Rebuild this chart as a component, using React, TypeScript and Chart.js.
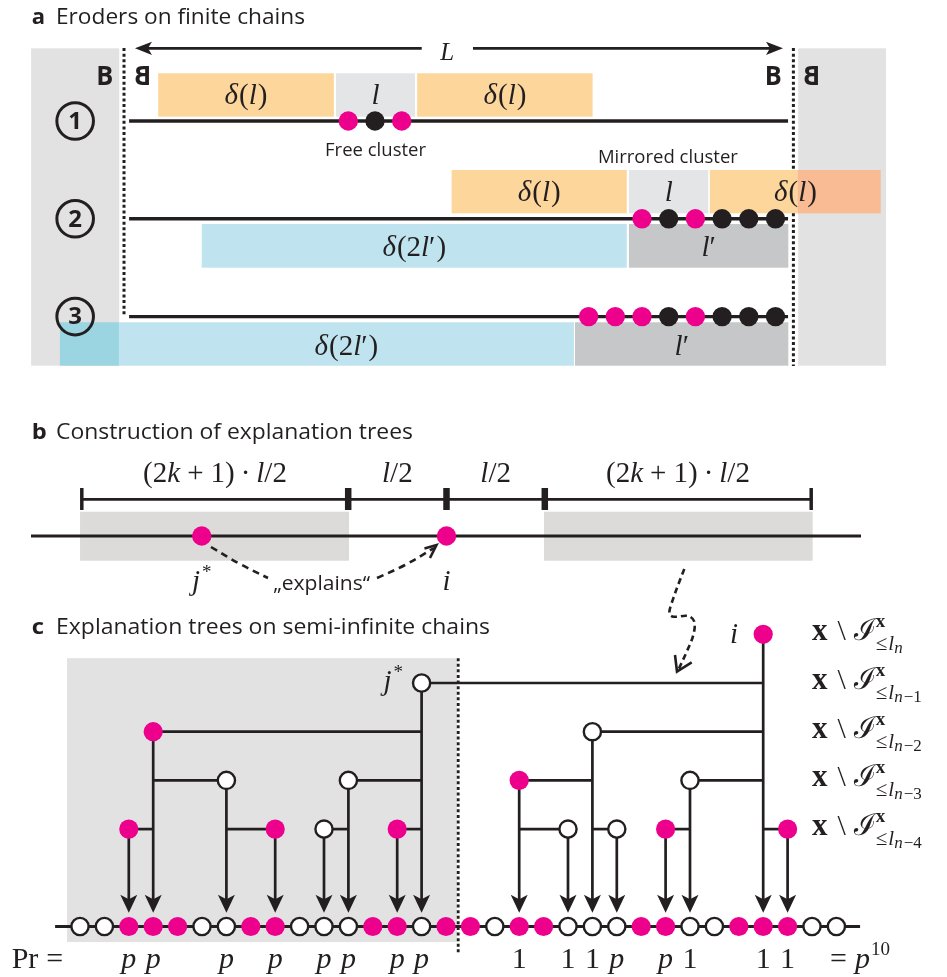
import React, { useEffect, useRef } from "react";
import { Chart, registerables } from "chart.js";

Chart.register(...registerables);

const W = 947;
const H = 977;

/* ---------------- panel a : eroders on finite chains (x: lattice site, y: row) ---------------- */
const aRows = [1, 2, 3];
const aRowNames = ["1", "2", "3"];
const aRowNameSite = -2.23;
const aChainExtent = [-0.21, 24.47];
const aBoundaries = [
  [-0.4, 0.254, 3.0],
  [24.67, 0.254, 1.501],
  [24.67, 1.944, 3.505],
];
const aLengthArrow = [0.01, 24.28];
const aLengthGap = [10.75, 12.67];
const aLengthRow = 0.257;
const aLengthLabel = [11.7, 0.376];
const aBoxes: [string, number, number, number, number][] = [
  ["side", -3.88, -0.58, 0.257, 3.502],
  ["side", 24.85, 28.14, 0.257, 3.502],
  ["teal", -2.8, -0.59, 3.058, 3.502],
  ["orange", 0.88, 7.46, 0.512, 0.956],
  ["cluster", 7.54, 10.5, 0.512, 0.956],
  ["orange", 10.58, 17.15, 0.512, 0.956],
  ["orange", 11.87, 18.43, 1.501, 1.944],
  ["cluster", 18.51, 21.48, 1.501, 1.944],
  ["orange", 21.54, 24.82, 1.501, 1.944],
  ["salmon", 24.82, 27.94, 1.501, 1.944],
  ["blue", 2.51, 18.43, 2.053, 2.5],
  ["bound", 18.51, 24.48, 2.053, 2.5],
  ["blue", -0.59, 16.45, 3.058, 3.502],
  ["bound", 16.49, 24.48, 3.058, 3.502],
];
const aBoxLabels: [string, number, number][] = [
  ["dl", 4.17, 0.828],
  ["l", 9.02, 0.828],
  ["dl", 13.87, 0.828],
  ["dl", 15.15, 1.816],
  ["l", 20.0, 1.816],
  ["dl", 24.75, 1.816],
  ["d2l", 10.47, 2.38],
  ["lp", 21.5, 2.38],
  ["d2l", 7.93, 3.393],
  ["lp", 20.49, 3.393],
];
const aClusterSites = [
  [8, 9, 10],
  [19, 20, 21, 22, 23, 24],
  [17, 18, 19, 20, 21, 22, 23, 24],
];
const aClusterPink = [
  [1, 0, 1],
  [1, 0, 1, 0, 0, 0],
  [1, 1, 1, 0, 1, 0, 0, 0],
];
const aBoundaryLetterSites = [-1.12, 0.3, 23.92, 25.36];
const aBoundaryLetterMirrored = [false, true, false, true];
const aBoundaryLetterRow = 0.632;
const aCaptions: [string, number, number, number][] = [
  ["Free cluster", 9.02, 1.358, 101],
  ["Mirrored cluster", 19.97, 1.426, 140],
];

/* ---------------- panel b : construction (x: units of l/2 from site i, y: page units) ---------------- */
const bTicks = [-3.71, -1, 0, 1, 3.71];
const bTickHeavy = [false, true, true, true, false];
const bSegmentLabels = ["wide", "half", "half", "wide"];
const bRulerY = 499.3;
const bTickSpan = [488, 510];
const bWindows = [
  [-3.728, -0.992],
  [0.992, 3.725],
];
const bWindowY = [511.7, 560.7];
const bChainExtent = [-4.227, 4.217];
const bChainY = 536;
const bSites = [-2.49, 0];
const bSiteNames = ["jstar", "i"];
const bNameY = 590;
const bExplainsFrom = [
  [-2.396, 547],
  [-2.101, 564],
  [-1.816, 578],
];
const bExplainsTo = [
  [-0.707, 578],
  [-0.422, 565],
  [-0.127, 548],
];
const bExplainsHead = [
  [-0.224, 548.5],
  [-0.102, 545],
  [-0.168, 558],
];
const bExplainsLabel = [-1.27, 590, 97];

/* squiggly link from panel b to panel c (page units) */
const linkCurve = [
  [684.3, 569],
  [680, 580],
  [673.3, 598.3],
  [669.3, 613.3],
  [673.3, 616.7],
  [688.3, 616],
  [694.3, 621.7],
  [693.3, 635],
  [686.7, 651.7],
  [678.5, 669.5],
];
const linkHead = [
  [675, 655],
  [677, 671.5],
  [691.7, 662.3],
];

/* ---------------- panel c : explanation trees (x: site index, y: tree level) ---------------- */
const cSiteStates = [0, 0, 1, 1, 1, 0, 0, 1, 1, 0, 0, 0, 1, 1, 0, 1, 1, 0, 1, 1, 0, 0, 0, 1, 1, 0, 0, 1, 1, 1, 0, 0];
const cChainLevel = 6;
const cChainExtent = [-1.02, 31.97];
const cTreeSites = [28, 14, 3, 21, 6, 11, 18, 25, 2, 8, 10, 13, 20, 22, 24, 29];
const cTreeLevels = [0, 1, 2, 2, 3, 3, 3, 3, 4, 4, 4, 4, 4, 4, 4, 4];
const cTreeParents = [-1, 28, 14, 28, 3, 14, 21, 28, 3, 6, 11, 14, 18, 21, 25, 28];
const cTreePink = [1, 0, 1, 0, 0, 0, 1, 0, 1, 1, 0, 1, 0, 0, 1, 1];
const cTreeWeights = ["1", "p", "p", "1", "p", "p", "1", "1", "p", "p", "p", "p", "1", "p", "p", "1"];
const cArrowTip = 5.72;
const cArrowShaftEnd = 5.5;
const cShade = [-0.53, 15.45, 0.49, 6.32];
const cDivider = [15.5, 0.49, 6.58];
const cWeightLevel = 6.85;
const cProbSite = -2.8;
const cTotalSite = 30.74;
const cSetSite = 30.0;
const cSetLevels = [0, 1, 2, 3, 4];
const cSetSubs = ["", "−1", "−2", "−3", "−4"];
const cRootLabel = [26.8, 0.18];
const cStarLabel = [13.24, 1.14];

/* ---------------- styles ---------------- */
const INK = "#231f20";
const PINK = "#ec008c";
const BOX_COLORS: Record<string, string> = {
  side: "#e2e2e2",
  teal: "#9bd5e1",
  orange: "#fdd69c",
  cluster: "#e4e5e7",
  salmon: "#f9bb93",
  blue: "#bfe4ef",
  bound: "#c6c7c9",
};
const B_GRAY = "#dcdbda";
const C_GRAY = "#e2e2e2";
const SERIF = '"Liberation Serif", "DejaVu Serif", serif';
const SANS = '"Open Sans", "Noto Sans", sans-serif';
const it = (s: number) => `italic ${s}px ${SERIF}`;
const rm = (s: number) => `${s}px ${SERIF}`;
const bf = (s: number) => `bold ${s}px ${SERIF}`;
const M = 29;

type Run = { t: string; f: string; dy?: number; gap?: number; keep?: boolean };

function runsWidth(ctx: CanvasRenderingContext2D, runs: Run[]) {
  let x = 0;
  let w = 0;
  for (const r of runs) {
    ctx.font = r.f;
    x += r.gap || 0;
    const m = ctx.measureText(r.t).width;
    w = Math.max(w, x + m);
    if (!r.keep) x += m;
  }
  return Math.max(w, x);
}

function drawRuns(ctx: CanvasRenderingContext2D, runs: Run[], x: number, y: number, align: string) {
  const w = runsWidth(ctx, runs);
  let cx = align === "center" ? x - w / 2 : align === "right" ? x - w : x;
  ctx.textAlign = "left";
  ctx.textBaseline = "alphabetic";
  for (const r of runs) {
    ctx.font = r.f;
    cx += r.gap || 0;
    ctx.fillText(r.t, cx, y + (r.dy || 0));
    if (!r.keep) cx += ctx.measureText(r.t).width;
  }
}

function fitText(ctx: CanvasRenderingContext2D, text: string, x: number, y: number, font: string, width: number, align: string, mirror = false) {
  ctx.font = font;
  const m = ctx.measureText(text).width;
  const k = width / m;
  ctx.save();
  ctx.translate(x, y);
  ctx.scale(mirror ? -k : k, 1);
  ctx.textAlign = align as CanvasTextAlign;
  ctx.textBaseline = "alphabetic";
  ctx.fillText(text, 0, 0);
  ctx.restore();
}

function math(key: string): Run[] {
  switch (key) {
    case "dl":
      return [
        { t: "δ", f: it(M) },
        { t: "(", f: rm(M), gap: 1 },
        { t: "l", f: it(M) },
        { t: ")", f: rm(M), gap: 1 },
      ];
    case "l":
      return [{ t: "l", f: it(M) }];
    case "d2l":
      return [
        { t: "δ", f: it(M) },
        { t: "(", f: rm(M), gap: 1 },
        { t: "2", f: rm(M) },
        { t: "l", f: it(M) },
        { t: "′", f: rm(M) },
        { t: ")", f: rm(M), gap: 1 },
      ];
    case "lp":
      return [
        { t: "l", f: it(M) },
        { t: "′", f: rm(M) },
      ];
    case "wide":
      return [
        { t: "(", f: rm(M) },
        { t: "2", f: rm(M) },
        { t: "k", f: it(M) },
        { t: "+", f: rm(M), gap: 7 },
        { t: "1", f: rm(M), gap: 7 },
        { t: ")", f: rm(M) },
        { t: "·", f: rm(M), gap: 6 },
        { t: "l", f: it(M), gap: 6 },
        { t: "/2", f: rm(M) },
      ];
    case "half":
      return [
        { t: "l", f: it(M) },
        { t: "/2", f: rm(M) },
      ];
    case "jstar":
      return [
        { t: "j", f: it(M) },
        { t: "*", f: rm(19), dy: -12, gap: 2 },
      ];
    case "i":
      return [{ t: "i", f: it(M) }];
    default:
      return [{ t: key, f: rm(M) }];
  }
}

function setRuns(sub: string): Run[] {
  const runs: Run[] = [
    { t: "x", f: bf(31) },
    { t: "\\", f: rm(30), gap: 10 },
    { t: "ℐ", f: `${30}px "DejaVu Serif", serif`, gap: 8 },
    { t: "x", f: bf(19), dy: -13, gap: 0, keep: true },
    { t: "≤", f: rm(21), dy: 10, gap: 0 },
    { t: "l", f: it(21), dy: 10, gap: 1 },
    { t: "n", f: it(17), dy: 13 },
  ];
  if (sub) runs.push({ t: sub, f: rm(17), dy: 13, gap: 1 });
  return runs;
}

function stealth(ctx: CanvasRenderingContext2D, tx: number, ty: number, dx: number, dy: number, len: number, half: number, notch: number) {
  const bx = tx - dx * len;
  const by = ty - dy * len;
  const nx = -dy;
  const ny = dx;
  ctx.beginPath();
  ctx.moveTo(tx, ty);
  ctx.lineTo(bx + nx * half, by + ny * half);
  ctx.lineTo(tx - dx * (len - notch), ty - dy * (len - notch));
  ctx.lineTo(bx - nx * half, by - ny * half);
  ctx.closePath();
  ctx.fill();
}

const diagramPlugin = {
  id: "diagram",
  beforeDatasetsDraw(chart: any) {
    const ctx: CanvasRenderingContext2D = chart.ctx;
    const S = chart.scales;
    const box = (xs: any, ys: any, x0: number, x1: number, y0: number, y1: number, color: string) => {
      const a = xs.getPixelForValue(x0);
      const b = xs.getPixelForValue(x1);
      const c = ys.getPixelForValue(y0);
      const d = ys.getPixelForValue(y1);
      ctx.fillStyle = color;
      ctx.fillRect(Math.min(a, b), Math.min(c, d), Math.abs(b - a), Math.abs(d - c));
    };
    ctx.save();
    for (const [kind, x0, x1, y0, y1] of aBoxes) box(S.xa, S.ya, x0, x1, y0, y1, BOX_COLORS[kind]);
    for (const [u0, u1] of bWindows) box(S.xb, S.y, u0, u1, bWindowY[0], bWindowY[1], B_GRAY);
    box(S.xc, S.yc, cShade[0], cShade[1], cShade[2], cShade[3], C_GRAY);
    ctx.restore();
  },
  afterDatasetsDraw(chart: any) {
    const ctx: CanvasRenderingContext2D = chart.ctx;
    const S = chart.scales;
    const X = (id: string, v: number) => S[id].getPixelForValue(v);
    ctx.save();
    ctx.fillStyle = INK;

    // titles
    const titles: [string, string, number, number, number][] = [
      ["a", "Eroders on finite chains", 24, 13.3, 249],
      ["b", "Construction of explanation trees", 439, 15, 357],
      ["c", "Explanation trees on semi-infinite chains", 634, 12.3, 434],
    ];
    for (const [letter, text, base, lw, tw] of titles) {
      fitText(ctx, letter, 31.7, base, `bold 22px ${SANS}`, lw, "left");
      fitText(ctx, text, 56, base, `21px ${SANS}`, tw, "left");
    }

    // panel a: L arrow heads
    const ly = X("ya", aLengthRow);
    stealth(ctx, X("xa", aLengthArrow[0]), ly, -1, 0, 17, 6.6, 4);
    stealth(ctx, X("xa", aLengthArrow[1]), ly, 1, 0, 17, 6.6, 4);
    drawRuns(ctx, [{ t: "L", f: it(25) }], X("xa", aLengthLabel[0]), X("ya", aLengthLabel[1]), "center");

    // boundary letters
    aBoundaryLetterSites.forEach((s, k) => {
      fitText(ctx, "B", X("xa", s), X("ya", aBoundaryLetterRow), `bold 26px ${SANS}`, 17, "center", aBoundaryLetterMirrored[k]);
    });
    // row badges digits
    aRows.forEach((r, k) => {
      ctx.font = `bold 24px ${SANS}`;
      ctx.textAlign = "center";
      ctx.textBaseline = "middle";
      ctx.fillText(aRowNames[k], X("xa", aRowNameSite), X("ya", r) + 1);
    });
    // box labels
    for (const [key, s, r] of aBoxLabels) drawRuns(ctx, math(key), X("xa", s), X("ya", r), "center");
    // captions
    for (const [text, s, r, w] of aCaptions) fitText(ctx, text, X("xa", s), X("ya", r), `19px ${SANS}`, w, "center");

    // panel b labels
    bSegmentLabels.forEach((key, k) => {
      const mid = (bTicks[k] + bTicks[k + 1]) / 2;
      drawRuns(ctx, math(key), X("xb", mid), 482, "center");
    });
    bSites.forEach((u, k) => drawRuns(ctx, math(bSiteNames[k]), X("xb", u), bNameY, "center"));
    fitText(ctx, "„explains“", X("xb", bExplainsLabel[0]), bExplainsLabel[1], `20px ${SANS}`, bExplainsLabel[2], "center");

    // panel c arrow heads
    const tipY = X("yc", cArrowTip);
    cTreeSites.forEach((s) => stealth(ctx, X("xc", s), tipY, 0, 1, 18, 8.5, 4.5));
    // panel c labels
    drawRuns(ctx, math("i"), X("xc", cRootLabel[0]), X("yc", cRootLabel[1]), "center");
    drawRuns(ctx, math("jstar"), X("xc", cStarLabel[0]), X("yc", cStarLabel[1]), "right");
    const wy = X("yc", cWeightLevel);
    cTreeSites.forEach((s, k) => {
      const w = cTreeWeights[k];
      drawRuns(ctx, [{ t: w, f: w === "p" ? it(30) : rm(30) }], X("xc", s), wy, "center");
    });
    drawRuns(
      ctx,
      [
        { t: "Pr", f: rm(30) },
        { t: "=", f: rm(30), gap: 8 },
      ],
      X("xc", cProbSite),
      wy,
      "left"
    );
    drawRuns(
      ctx,
      [
        { t: "=", f: rm(30) },
        { t: "p", f: it(30), gap: 8 },
        { t: "10", f: rm(19), dy: -13, gap: 1 },
      ],
      X("xc", cTotalSite),
      wy,
      "left"
    );
    cSetLevels.forEach((lv, k) => drawRuns(ctx, setRuns(cSetSubs[k]), X("xc", cSetSite), X("yc", lv) + 6, "left"));
    ctx.restore();
  },
};

type P = { x: number; y: number };
const seg = (pts: P[], xAxisID: string, yAxisID: string, extra: any = {}) => ({
  data: pts,
  xAxisID,
  yAxisID,
  showLine: true,
  pointRadius: 0,
  pointHoverRadius: 0,
  borderColor: INK,
  backgroundColor: INK,
  borderWidth: 2.6,
  tension: 0,
  fill: false,
  order: 2,
  ...extra,
});
const dots = (pts: P[], xAxisID: string, yAxisID: string, fills: string[], radius: number[], border: number[]) => ({
  data: pts,
  xAxisID,
  yAxisID,
  showLine: false,
  pointRadius: radius,
  pointHoverRadius: radius,
  pointBackgroundColor: fills,
  pointBorderColor: INK,
  pointBorderWidth: border,
  order: 1,
});

function buildDatasets() {
  const ds: any[] = [];
  // panel a
  aBoundaries.forEach(([s, r0, r1]) =>
    ds.push(seg([{ x: s, y: r0 }, { x: s, y: r1 }], "xa", "ya", { borderWidth: 3, borderDash: [3, 2.6] }))
  );
  aRows.forEach((r) => ds.push(seg([{ x: aChainExtent[0], y: r }, { x: aChainExtent[1], y: r }], "xa", "ya", { borderWidth: 3.4 })));
  ds.push(seg([{ x: aLengthArrow[0] + 0.4, y: aLengthRow }, { x: aLengthGap[0], y: aLengthRow }], "xa", "ya", { borderWidth: 2.7 }));
  ds.push(seg([{ x: aLengthGap[1], y: aLengthRow }, { x: aLengthArrow[1] - 0.4, y: aLengthRow }], "xa", "ya", { borderWidth: 2.7 }));
  ds.push(
    dots(
      aRows.map((r) => ({ x: aRowNameSite, y: r })),
      "xa",
      "ya",
      aRows.map(() => "rgba(0,0,0,0)"),
      aRows.map(() => 18.3),
      aRows.map(() => 3)
    )
  );
  aClusterSites.forEach((sites, k) =>
    ds.push(
      dots(
        sites.map((s) => ({ x: s, y: aRows[k] })),
        "xa",
        "ya",
        aClusterPink[k].map((p) => (p ? PINK : INK)),
        sites.map(() => 9.7),
        sites.map(() => 0)
      )
    )
  );
  // panel b
  ds.push(seg([{ x: bTicks[0], y: bRulerY }, { x: bTicks[bTicks.length - 1], y: bRulerY }], "xb", "y", { borderWidth: 2.8 }));
  bTicks.forEach((t, k) =>
    ds.push(seg([{ x: t, y: bTickSpan[0] }, { x: t, y: bTickSpan[1] }], "xb", "y", { borderWidth: bTickHeavy[k] ? 6.5 : 3.5 }))
  );
  ds.push(seg([{ x: bChainExtent[0], y: bChainY }, { x: bChainExtent[1], y: bChainY }], "xb", "y", { borderWidth: 3 }));
  ds.push(
    dots(
      bSites.map((u) => ({ x: u, y: bChainY })),
      "xb",
      "y",
      bSites.map(() => PINK),
      bSites.map(() => 9.7),
      bSites.map(() => 0)
    )
  );
  ds.push(seg(bExplainsFrom.map(([u, y]) => ({ x: u, y })), "xb", "y", { borderDash: [7, 5], tension: 0.4 }));
  ds.push(seg(bExplainsTo.map(([u, y]) => ({ x: u, y })), "xb", "y", { borderDash: [7, 5], tension: 0.4 }));
  ds.push(seg(bExplainsHead.map(([u, y]) => ({ x: u, y })), "xb", "y", { borderJoinStyle: "miter" }));
  ds.push(seg(linkCurve.map(([x, y]) => ({ x, y })), "x", "y", { borderDash: [6, 4], tension: 0.35 }));
  ds.push(seg(linkHead.map(([x, y]) => ({ x, y })), "x", "y", { borderJoinStyle: "miter" }));
  // panel c
  ds.push(seg([{ x: cChainExtent[0], y: cChainLevel }, { x: cChainExtent[1], y: cChainLevel }], "xc", "yc", { borderWidth: 3 }));
  ds.push(seg([{ x: cDivider[0], y: cDivider[1] }, { x: cDivider[0], y: cDivider[2] }], "xc", "yc", { borderWidth: 2.8, borderDash: [3, 2.6] }));
  cTreeSites.forEach((s, k) => {
    const lv = cTreeLevels[k];
    if (cTreeParents[k] >= 0) ds.push(seg([{ x: s, y: lv }, { x: cTreeParents[k], y: lv }], "xc", "yc", { borderWidth: 2.7 }));
    ds.push(seg([{ x: s, y: lv }, { x: s, y: cArrowShaftEnd }], "xc", "yc", { borderWidth: 2.7 }));
  });
  ds.push(
    dots(
      cTreeSites.map((s, k) => ({ x: s, y: cTreeLevels[k] })),
      "xc",
      "yc",
      cTreePink.map((p) => (p ? PINK : "#ffffff")),
      cTreePink.map((p) => (p ? 9.6 : 8.6)),
      cTreePink.map((p) => (p ? 0 : 2.4))
    )
  );
  ds.push(
    dots(
      cSiteStates.map((_, i) => ({ x: i, y: cChainLevel })),
      "xc",
      "yc",
      cSiteStates.map((p) => (p ? PINK : "#ffffff")),
      cSiteStates.map((p) => (p ? 9.6 : 8.6)),
      cSiteStates.map((p) => (p ? 0 : 2.4))
    )
  );
  return ds;
}

const hidden = { display: false, grid: { display: false } };

export default function App() {
  const ref = useRef<HTMLCanvasElement>(null);
  useEffect(() => {
    const canvas = ref.current;
    if (!canvas) return;
    const chart = new Chart(canvas, {
      type: "scatter",
      data: { datasets: buildDatasets() },
      options: {
        animation: false,
        responsive: false,
        maintainAspectRatio: false,
        events: [],
        layout: { padding: 0, autoPadding: false },
        plugins: { legend: { display: false }, tooltip: { enabled: false } },
        scales: {
          x: { type: "linear", axis: "x", position: "bottom", min: 0, max: W, ...hidden },
          y: { type: "linear", axis: "y", position: "left", min: 0, max: H, reverse: true, ...hidden },
          xa: { type: "linear", axis: "x", position: "bottom", min: -134.7 / 26.7, max: (W - 134.7) / 26.7, ...hidden },
          ya: { type: "linear", axis: "y", position: "left", min: 1 - 121 / 97.8, max: 1 + (H - 121) / 97.8, reverse: true, ...hidden },
          xb: { type: "linear", axis: "x", position: "bottom", min: -446.5 / 98.3, max: (W - 446.5) / 98.3, ...hidden },
          xc: { type: "linear", axis: "x", position: "bottom", min: -80 / 24.4, max: (W - 80) / 24.4, ...hidden },
          yc: { type: "linear", axis: "y", position: "left", min: -634.3 / 48.7, max: (H - 634.3) / 48.7, reverse: true, ...hidden },
        },
      } as any,
      plugins: [diagramPlugin as any],
    });
    return () => chart.destroy();
  }, []);
  return (
    <div style={{ position: "fixed", left: 0, top: 0, width: W, height: H, background: "#ffffff" }}>
      <canvas ref={ref} width={W} height={H} style={{ display: "block", width: W, height: H }} />
    </div>
  );
}
